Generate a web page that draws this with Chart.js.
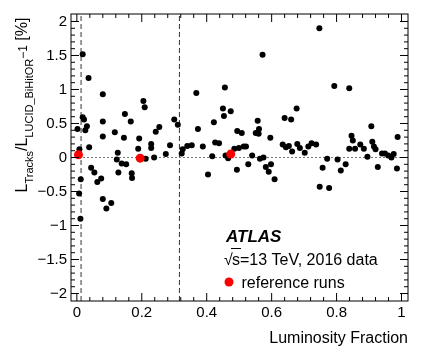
<!DOCTYPE html>
<html>
<head>
<meta charset="utf-8">
<script src="https://cdn.jsdelivr.net/npm/chart.js@4.4.0/dist/chart.umd.min.js"></script>
<style>
  html, body { margin: 0; padding: 0; background: #fff; }
  canvas { display: block; }
</style>
</head>
<body>
<canvas id="lumiChart" width="425" height="362"></canvas>
<script>
// ============ Data ============
const RUN_X = [
  0.018, 0.036, 0.080, 0.205, 0.209, 0.018, 0.022, 0.080, 0.148, 0.166, 0.031, 0.026, 0.002, 0.080,
  0.117, 0.145, 0.192, 0.254, 0.243, 0.229, 0.229, 0.008, 0.038, 0.189, 0.126, 0.123, 0.212, 0.238,
  0.138, 0.152, 0.128, 0.169, 0.170, 0.044, 0.054, 0.075, 0.063, 0.012, 0.007, 0.080, 0.106, 0.091,
  0.011,
  0.368, 0.456, 0.450, 0.474, 0.453, 0.300, 0.311, 0.373, 0.422, 0.494, 0.508, 0.287, 0.340, 0.354,
  0.388, 0.426, 0.438, 0.326, 0.323, 0.274, 0.417, 0.458, 0.485, 0.499, 0.514, 0.404, 0.493, 0.466,
  0.747, 0.572, 0.677, 0.640, 0.660, 0.557, 0.551, 0.561, 0.560, 0.596, 0.521, 0.634, 0.644, 0.653,
  0.663, 0.679, 0.687, 0.702, 0.713, 0.723, 0.737, 0.540, 0.564, 0.575, 0.771, 0.528, 0.582, 0.598,
  0.591, 0.609, 0.757, 0.748, 0.777,
  0.793, 0.839, 0.907, 0.846, 0.850, 0.910, 0.988, 0.915, 0.920, 0.839, 0.857, 0.873, 0.884, 0.940,
  0.949, 0.959, 0.969, 0.976, 0.895, 0.803, 0.828, 0.813, 0.927, 0.986
];
const RUN_Y = [
  1.52, 1.17, 0.93, 0.83, 0.74, 0.59, 0.56, 0.53, 0.64, 0.53, 0.46, 0.40, 0.42, 0.31,
  0.37, 0.29, 0.28, 0.45, 0.38, 0.20, 0.14, 0.12, 0.15, 0.13, 0.07, -0.03, -0.02, 0.00,
  -0.09, -0.10, -0.22, -0.23, -0.30, -0.15, -0.22, -0.31, -0.36, -0.32, -0.53, -0.61, -0.67, -0.75,
  -0.90,
  0.95, 1.03, 0.72, 0.68, 0.61, 0.56, 0.48, 0.42, 0.52, 0.39, 0.36, 0.18, 0.17, 0.18,
  0.16, 0.22, 0.21, 0.12, 0.06, 0.05, 0.02, 0.03, 0.13, 0.14, 0.16, -0.25, -0.18, -0.01,
  1.90, 1.51, 0.72, 0.58, 0.56, 0.54, 0.36, 0.42, 0.35, 0.29, 0.16, 0.19, 0.15, 0.17,
  0.09, 0.20, 0.14, 0.07, 0.16, 0.21, 0.19, 0.03, -0.02, 0.00, -0.02, -0.10, -0.14, -0.10,
  -0.21, -0.32, -0.15, -0.43, -0.45,
  1.05, 1.02, 0.46, 0.32, 0.25, 0.23, 0.30, 0.16, 0.12, 0.13, 0.13, 0.19, 0.13, 0.06,
  0.06, 0.03, 0.00, 0.05, 0.01, -0.03, -0.10, -0.19, -0.14, -0.16
];
const REF_X = [0.005, 0.195, 0.474];
const REF_Y = [0.04, -0.01, 0.05];

const X_TICKS = [0, 0.2, 0.4, 0.6, 0.8, 1];
const Y_TICKS = [-2, -1.5, -1, -0.5, 0, 0.5, 1, 1.5, 2];
const CUT_X = [0.013, 0.316];      // dashed vertical markers
const X_RANGE = [-0.018, 1.02];
const Y_RANGE = [-2.11, 2.11];

const FONT = "'Liberation Sans', Arial, Helvetica, sans-serif";

// ============ Helpers ============
const pts = (xs, ys) => xs.map((x, i) => ({ x: x, y: ys[i] }));
const fmtTick = v => String(v).replace('-', '\u2212');

function drawYTitle(ctx) {
  const parts = [
    { t: 'L', size: 16, dy: 0 },
    { t: 'Tracks', size: 11, dy: 6 },
    { t: '/L', size: 16, dy: 0 },
    { t: 'LUCID_BiHitOR', size: 11, dy: 6 },
    { t: '\u22121', size: 12, dy: 0 },
    { t: ' [%]', size: 16, dy: 0 }
  ];
  let total = 0;
  parts.forEach(p => { ctx.font = `${p.size}px ${FONT}`; p.w = ctx.measureText(p.t).width; total += p.w; });
  ctx.save();
  ctx.translate(27, 105);
  ctx.rotate(-Math.PI / 2);
  ctx.fillStyle = '#000';
  ctx.textBaseline = 'alphabetic';
  let x = -total / 2;
  parts.forEach(p => { ctx.font = `${p.size}px ${FONT}`; ctx.fillText(p.t, x, p.dy); x += p.w; });
  ctx.restore();
}

// frame + inward ticks on all four sides, ROOT style
const rootFrame = {
  id: 'rootFrame',
  afterDraw(chart) {
    const { ctx, chartArea: a, scales } = chart;
    const xs = scales.x, ys = scales.y;
    ctx.save();
    ctx.strokeStyle = '#000';
    ctx.lineWidth = 1;
    ctx.strokeRect(a.left, a.top, a.right - a.left, a.bottom - a.top);
    ctx.beginPath();
    for (let i = 0; i <= 25; i++) {
      const px = xs.getPixelForValue(i * 0.04);
      const len = i % 5 === 0 ? 8 : 4;
      ctx.moveTo(px, a.bottom); ctx.lineTo(px, a.bottom - len);
      ctx.moveTo(px, a.top); ctx.lineTo(px, a.top + len);
    }
    for (let i = -20; i <= 20; i++) {
      const py = ys.getPixelForValue(i * 0.1);
      const len = i % 5 === 0 ? 8 : 4;
      ctx.moveTo(a.left, py); ctx.lineTo(a.left + len, py);
      ctx.moveTo(a.right, py); ctx.lineTo(a.right - len, py);
    }
    ctx.stroke();

    drawYTitle(ctx);

    // labels inside the plot
    ctx.fillStyle = '#000';
    ctx.textBaseline = 'alphabetic';
    ctx.font = `italic bold 17px ${FONT}`;
    ctx.fillText('ATLAS', 226, 242);
    ctx.font = `16px ${FONT}`;
    ctx.fillText('\u221A', 224, 265);
    ctx.fillText('s=13 TeV, 2016 data', 232, 265);
    ctx.beginPath();
    ctx.moveTo(231, 248.5); ctx.lineTo(241, 248.5);
    ctx.stroke();
    ctx.fillText('reference runs', 241.5, 288);
    ctx.fillStyle = '#ff0000';
    ctx.beginPath();
    ctx.arc(229, 282, 4.5, 0, Math.PI * 2);
    ctx.fill();
    ctx.restore();
  }
};

// ============ Chart ============
const lineSets = CUT_X.map(c => ({
  type: 'line',
  data: [{ x: c, y: Y_RANGE[0] }, { x: c, y: Y_RANGE[1] }],
  borderColor: '#333',
  borderWidth: 1,
  borderDash: [5, 3],
  pointRadius: 0,
  showLine: true
}));

new Chart(document.getElementById('lumiChart').getContext('2d'), {
  type: 'scatter',
  data: {
    datasets: [
      {
        label: 'reference runs',
        data: pts(REF_X, REF_Y),
        pointRadius: 4.5,
        backgroundColor: '#ff0000',
        borderWidth: 0
      },
      {
        label: 'runs',
        data: pts(RUN_X, RUN_Y),
        pointRadius: 3,
        backgroundColor: '#000',
        borderWidth: 0
      },
      {
        type: 'line',
        data: [{ x: X_RANGE[0], y: 0 }, { x: X_RANGE[1], y: 0 }],
        borderColor: '#777',
        borderWidth: 1,
        borderDash: [2, 2],
        pointRadius: 0,
        showLine: true
      },
      ...lineSets
    ]
  },
  options: {
    responsive: false,
    animation: false,
    devicePixelRatio: 1,
    layout: { padding: { top: 14, right: 17, left: 0, bottom: 0 } },
    plugins: { legend: { display: false }, tooltip: { enabled: false } },
    scales: {
      x: {
        type: 'linear',
        min: X_RANGE[0],
        max: X_RANGE[1],
        afterBuildTicks: s => { s.ticks = X_TICKS.map(v => ({ value: v })); },
        afterFit: s => { s.height = 61; },
        grid: { display: false, drawTicks: false },
        border: { display: false },
        ticks: { font: { size: 15, family: FONT }, color: '#000', padding: 3, maxRotation: 0, autoSkip: false, callback: v => fmtTick(v) },
        title: { display: true, text: 'Luminosity Fraction', align: 'end', color: '#000', font: { size: 16, family: FONT }, padding: { top: 0, bottom: 14 } }
      },
      y: {
        type: 'linear',
        min: Y_RANGE[0],
        max: Y_RANGE[1],
        afterBuildTicks: s => { s.ticks = Y_TICKS.map(v => ({ value: v })); },
        afterFit: s => { s.width = 71; },
        grid: { display: false, drawTicks: false },
        border: { display: false },
        ticks: { font: { size: 15, family: FONT }, color: '#000', padding: 4, autoSkip: false, callback: v => fmtTick(v) }
      }
    }
  },
  plugins: [rootFrame]
});
</script>
</body>
</html>
